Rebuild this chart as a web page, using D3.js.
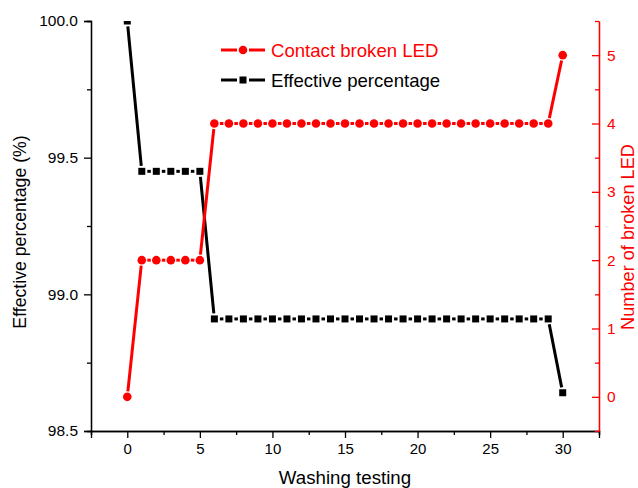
<!DOCTYPE html>
<html><head><meta charset="utf-8">
<script src="https://cdn.jsdelivr.net/npm/d3@7"></script>
<style>body{margin:0;background:#fff}svg{display:block}text{font-family:"Liberation Sans",Arial,sans-serif}</style>
</head><body>
<script>
const washes = d3.range(0, 31);
const effective = [100.0, 99.45,99.45,99.45,99.45,99.45,
  98.91,98.91,98.91,98.91,98.91,98.91,98.91,98.91,98.91,98.91,98.91,98.91,98.91,98.91,98.91,98.91,98.91,98.91,98.91,98.91,98.91,98.91,98.91,98.91,
  98.64];
const broken = [0, 2,2,2,2,2,
  4,4,4,4,4,4,4,4,4,4,4,4,4,4,4,4,4,4,4,4,4,4,4,4,
  5];
const xTicks = [0,5,10,15,20,25,30];
const leftTicks = [98.5,99.0,99.5,100.0];
const rightTicks = [0,1,2,3,4,5];
const seriesNames = ["Contact broken LED","Effective percentage"];

const W=638,H=488, L=91,R=599,T=21,B=431;
const svg=d3.select("body").append("svg").attr("width",W).attr("height",H);
const x=d3.scaleLinear().domain([-2.5,32.5]).range([L,R]);
const yL=d3.scaleLinear().domain([98.5,100]).range([B,T]);
const yR=d3.scaleLinear().domain([-0.5,5.5]).range([B,T]);

svg.append("defs").append("clipPath").attr("id","clip").append("rect")
  .attr("x",L).attr("y",T).attr("width",R-L).attr("height",B-T);

function gapLine(g, pts, color, gap){
  for(let i=0;i<pts.length-1;i++){
    const [x1,y1]=pts[i],[x2,y2]=pts[i+1];
    const dx=x2-x1,dy=y2-y1,len=Math.hypot(dx,dy);
    if(len<=2*gap) continue;
    const ux=dx/len,uy=dy/len;
    g.append("line").attr("x1",x1+ux*gap).attr("y1",y1+uy*gap)
      .attr("x2",x2-ux*gap).attr("y2",y2-uy*gap)
      .attr("stroke",color).attr("stroke-width",3);
  }
}
const plot=svg.append("g").attr("clip-path","url(#clip)");
// black series
const ptsK=washes.map((d,i)=>[x(d),yL(effective[i])]);
gapLine(plot,ptsK,"#000",5.5);
plot.selectAll("rect.m").data(ptsK).join("rect").attr("class","m")
  .attr("x",d=>d[0]-3.5).attr("y",d=>d[1]-3.5).attr("width",7).attr("height",7).attr("fill","#000");
// red series
const ptsR=washes.map((d,i)=>[x(d),yR(broken[i])]);
gapLine(plot,ptsR,"#ff0000",5.5);
plot.selectAll("circle.m").data(ptsR).join("circle").attr("class","m")
  .attr("cx",d=>d[0]).attr("cy",d=>d[1]).attr("r",4.3).attr("fill","#ff0000");

// axes
const xMinor=d3.range(-2.5,33,5);
const gx=svg.append("g").attr("transform",`translate(0,${B})`);
gx.call(d3.axisBottom(x).tickValues(xTicks).tickSize(7).tickFormat(d3.format("d")).tickPadding(5));
gx.append("g").call(d3.axisBottom(x).tickValues(xMinor).tickSize(4).tickFormat(""));
gx.selectAll(".domain").attr("stroke","#000").attr("stroke-width",1.3);
gx.selectAll("line").attr("stroke","#000").attr("stroke-width",1.3);
gx.selectAll("text").attr("font-size",15).attr("fill","#000");

const gl=svg.append("g").attr("transform",`translate(${L},0)`);
gl.call(d3.axisLeft(yL).tickValues(leftTicks).tickSize(7).tickFormat(d3.format(".1f")).tickPadding(6));
gl.append("g").call(d3.axisLeft(yL).tickValues([98.75,99.25,99.75]).tickSize(4).tickFormat(""));
gl.selectAll(".domain").attr("stroke","#000").attr("stroke-width",1.3);
gl.selectAll("line").attr("stroke","#000").attr("stroke-width",1.3);
gl.selectAll("text").attr("font-size",15.5).attr("fill","#000");

const gr=svg.append("g").attr("transform",`translate(${R},0)`);
gr.call(d3.axisRight(yR).tickValues(rightTicks).tickSizeInner(-7).tickSizeOuter(0).tickPadding(8).tickFormat(d3.format("d")));
gr.append("g").call(d3.axisRight(yR).tickValues([-0.5,0.5,1.5,2.5,3.5,4.5,5.5]).tickSizeInner(-4).tickSizeOuter(0).tickFormat(""));
gr.selectAll(".domain").attr("stroke","#ff0000").attr("stroke-width",1.3);
gr.selectAll("line").attr("stroke","#ff0000").attr("stroke-width",1.3);
gr.selectAll("text").attr("font-size",15.5).attr("fill","#ff0000");

// axis titles
svg.append("text").attr("transform","translate(25.5,232) rotate(-90)").attr("text-anchor","middle")
  .attr("font-size",17.7).attr("fill","#000").text("Effective percentage (%)");
svg.append("text").attr("transform","translate(634,237) rotate(-90)").attr("text-anchor","middle")
  .attr("font-size",18.2).attr("fill","#ff0000").text("Number of broken LED");
svg.append("text").attr("x",345).attr("y",484).attr("text-anchor","middle")
  .attr("font-size",18.7).attr("fill","#000").text("Washing testing");

// legend
const leg=[{name:seriesNames[0],color:"#ff0000",y:50,shape:"circle"},{name:seriesNames[1],color:"#000",y:80,shape:"rect"}];
leg.forEach(d=>{
  const g=svg.append("g");
  g.append("line").attr("x1",221).attr("x2",237).attr("y1",d.y).attr("y2",d.y).attr("stroke",d.color).attr("stroke-width",3);
  g.append("line").attr("x1",249).attr("x2",265).attr("y1",d.y).attr("y2",d.y).attr("stroke",d.color).attr("stroke-width",3);
  if(d.shape==="circle") g.append("circle").attr("cx",243).attr("cy",d.y).attr("r",4.3).attr("fill",d.color);
  else g.append("rect").attr("x",239.5).attr("y",d.y-3.5).attr("width",7).attr("height",7).attr("fill",d.color);
  g.append("text").attr("x",271).attr("y",d.y+6.5).attr("font-size",18.6).attr("fill",d.color).text(d.name);
});
</script>
</body></html>
